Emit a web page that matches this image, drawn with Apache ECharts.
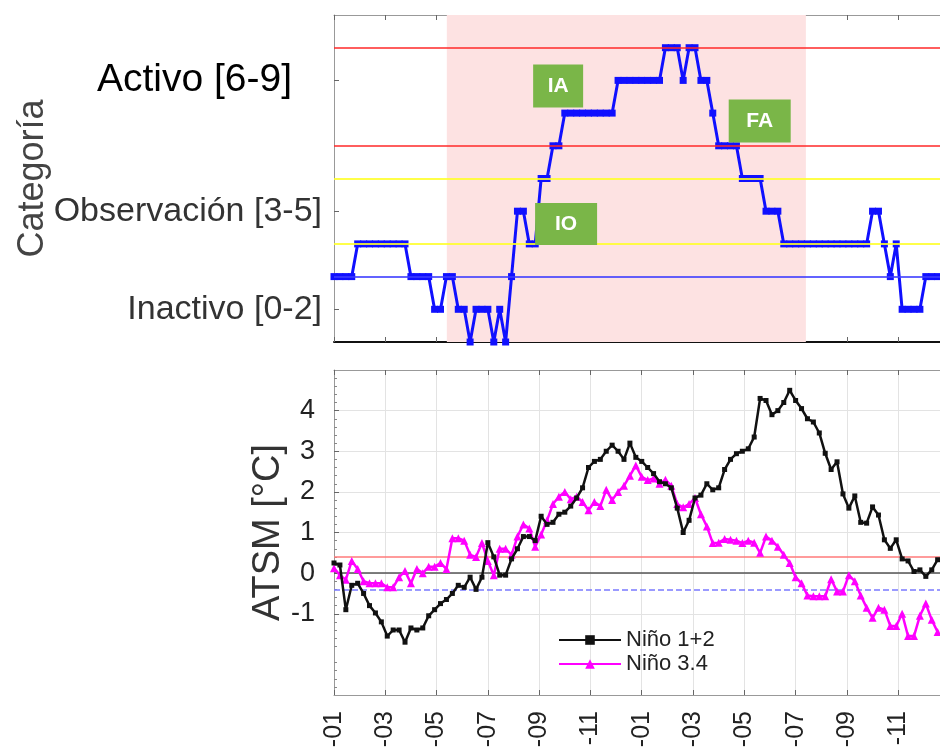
<!DOCTYPE html>
<html><head><meta charset="utf-8">
<script src="https://cdn.jsdelivr.net/npm/echarts@6/dist/echarts.min.js"></script>
<style>html,body{margin:0;padding:0;background:#fff}#c{width:940px;height:753px}</style>
</head><body><div id="c"></div>
<script>
// ---- data (weekly samples, starting at the first week of January) ----
const monthTickLabels = ['-01','-03','-05','-07','-09','-11','-01','-03','-05','-07','-09','-11'];
const categoryTickValues = [1, 4, 8];
const categoryTickLabels = ['Inactivo [0-2]', 'Observación [3-5]', 'Activo [6-9]'];
const atsmTickValues = [-1, 0, 1, 2, 3, 4];
const categoryLevels = [2,2,2,2, 3,3,3,3,3,3,3,3,3, 2,2,2,2, 1,1, 2,2, 1,1, 0, 1,1,1, 0, 1, 0, 2, 4,4, 3,3, 5,5, 6,6,
  7,7,7,7,7,7,7,7,7, 8,8,8,8,8,8,8,8, 9,9,9, 8, 9,9, 8,8, 7, 6,6,6,6, 5,5,5,5, 4,4,4,
  3,3,3,3,3,3,3,3,3,3,3,3,3,3,3, 4,4, 3, 2, 3, 1,1,1,1, 2,2,2];
const nino12 = [0.25,0.2,-0.9,-0.3,-0.25,-0.5,-0.8,-0.98,-1.2,-1.55,-1.4,-1.4,-1.7,-1.35,-1.4,-1.35,-1.05,-0.9,-0.75,-0.65,
  -0.5,-0.3,-0.35,-0.1,-0.4,-0.1,0.75,0.4,-0.05,-0.05,0.35,0.6,0.9,0.9,0.8,1.4,1.2,1.25,1.45,1.5,
  1.65,1.85,2.1,2.6,2.75,2.8,3.0,3.15,3.0,2.8,3.2,2.85,2.75,2.6,2.45,2.25,2.2,2.1,1.6,1.0,
  1.3,1.85,1.92,2.2,2.05,2.1,2.55,2.8,2.94,3.0,3.06,3.35,4.3,4.25,3.9,4.0,4.2,4.5,4.25,4.05,
  3.8,3.72,3.45,2.95,2.55,2.74,1.95,1.6,1.9,1.25,1.23,1.63,1.43,0.82,0.61,0.82,0.35,0.3,0.04,0.08,
  -0.08,0.08,0.33];
const nino34 = [0.12,-0.05,-0.16,0.3,0.1,-0.2,-0.25,-0.25,-0.25,-0.35,-0.35,-0.1,0.05,-0.25,0.1,0.0,0.16,0.16,0.25,0.1,
  0.86,0.86,0.8,0.45,0.4,0.74,0.3,-0.05,0.6,0.6,0.45,0.9,1.2,1.1,0.65,0.95,1.3,1.7,1.88,2.0,
  1.82,1.88,1.75,1.55,1.75,1.65,2.05,1.8,2.0,2.15,2.4,2.65,2.37,2.29,2.33,2.2,2.3,2.15,1.7,1.62,
  1.7,1.85,1.45,1.15,0.74,0.75,0.84,0.82,0.8,0.74,0.8,0.75,0.5,0.9,0.8,0.65,0.45,0.25,-0.1,-0.25,
  -0.55,-0.57,-0.57,-0.57,-0.15,-0.45,-0.45,-0.05,-0.2,-0.55,-0.85,-1.1,-0.85,-0.9,-1.3,-1.3,-1.0,-1.55,-1.55,-1.05,
  -0.75,-1.15,-1.45];
const shadedPeriod = [4.4, 18.4];           // months from start
const categoryThresholds = [9, 6, 5, 3, 2];
const atsmThresholds = [0, 0.4, -0.4];

// ---- config ----
const MONTHS_PER_WEEK = 12 / 52;
const X_MAX = 23.63;
const FONT = 'Liberation Sans, Arial, sans-serif';
const toXY = arr => arr.map((v, i) => [i * MONTHS_PER_WEEK, v]);
const thresholdStyles = {
  9: { color: 'rgba(255,40,40,0.75)', width: 2 },
  6: { color: 'rgba(255,40,40,0.75)', width: 2 },
  5: { color: 'rgba(255,255,40,0.85)', width: 2 },
  3: { color: 'rgba(255,255,40,0.85)', width: 2 },
  2: { color: 'rgba(60,60,255,0.8)', width: 2 }
};
const atsmStyles = {
  '0': { color: '#555', width: 1.5, type: 'solid' },
  '0.4': { color: '#ff7a7a', width: 1.5, type: 'solid' },
  '-0.4': { color: '#7a7aff', width: 1.5, type: 'dashed' }
};
const annotations = [
  { name: 'IA', x: 8.74, y: 7.83, w: 50, h: 43 },
  { name: 'IO', x: 9.05, y: 3.61, w: 62, h: 42 },
  { name: 'FA', x: 16.6, y: 6.76, w: 62, h: 43 }
];

const chart = echarts.init(document.getElementById('c'), null, { renderer: 'canvas' });
const monthLabel = v => {
  const k = Math.round(v);
  if (Math.abs(v - k) > 1e-6 || k % 2) return '';
  return monthTickLabels[k / 2] || '';
};
const xBase = (gridIndex, position) => ({
  type: 'value', gridIndex, position, min: 0, max: X_MAX, interval: 2,
  axisLine: { show: true, onZero: false, lineStyle: { color: '#999', width: 1 } },
  axisTick: { show: true, inside: true, length: 5, lineStyle: { color: '#666' } },
  axisLabel: { show: false },
  splitLine: { show: false }
});

const x0 = xBase(0, 'bottom'); x0.axisLine.lineStyle = { color: '#111', width: 2 };
const x1 = xBase(0, 'top');
const x2 = xBase(1, 'bottom');
x2.axisLabel = { show: true, rotate: 90, margin: 16, fontSize: 25, color: '#222', fontFamily: FONT,
  formatter: monthLabel, showMaxLabel: false };
x2.splitLine = { show: true, lineStyle: { color: '#e3e3e3', width: 1 } };
const x3 = xBase(1, 'top');

const option = {
  animation: false,
  backgroundColor: '#fff',
  textStyle: { fontFamily: FONT },
  grid: [
    { left: 334, top: 15, right: 0, height: 327 },
    { left: 334, top: 370, right: 0, height: 325 }
  ],
  xAxis: [x0, x1, x2, x3],
  yAxis: [
    {
      type: 'value', gridIndex: 0, min: 0, max: 10, interval: 1,
      name: 'Categoría', nameLocation: 'middle', nameGap: 283, nameMoveOverlap: false,
      nameTextStyle: { fontSize: 36, color: '#444', fontFamily: FONT },
      axisLine: { show: true, lineStyle: { color: '#999' } },
      axisTick: { show: true, inside: true, length: 5, customValues: categoryTickValues, lineStyle: { color: '#666' } },
      axisLabel: {
        show: true, margin: 12, customValues: categoryTickValues,
        formatter: v => {
          const k = categoryTickValues.indexOf(v);
          if (k < 0) return '';
          return (k === 2 ? '{act|' : '{obs|') + categoryTickLabels[k] + '}';
        },
        rich: {
          act: { fontSize: 39, color: '#000', fontFamily: FONT, padding: [0, 30, 0, 0] },
          obs: { fontSize: 34, color: '#333', fontFamily: FONT }
        }
      },
      splitLine: { show: false }
    },
    {
      type: 'value', gridIndex: 1, min: -3, max: 5, interval: 1,
      name: 'ATSM [°C]', nameLocation: 'middle', nameGap: 46, nameMoveOverlap: false,
      nameTextStyle: { fontSize: 38, color: '#333', fontFamily: FONT },
      axisLine: { show: true, lineStyle: { color: '#999' } },
      axisTick: { show: true, inside: true, length: 5, customValues: atsmTickValues, lineStyle: { color: '#666' } },
      minorTick: { show: true, splitNumber: 5, length: 3, lineStyle: { color: '#888' } },
      axisLabel: { show: true, margin: 19, fontSize: 27, color: '#222', fontFamily: FONT, customValues: atsmTickValues },
      splitLine: { show: true, lineStyle: { color: '#e3e3e3', width: 1 } }
    }
  ],
  legend: {
    data: ['Niño 1+2', 'Niño 3.4'],
    orient: 'vertical', left: 553, top: 624, itemWidth: 62, itemHeight: 12, itemGap: 2,
    textStyle: { fontSize: 22, color: '#222', fontFamily: FONT },
    backgroundColor: 'transparent'
  },
  series: [
    {
      name: 'Categoría', type: 'line', xAxisIndex: 0, yAxisIndex: 0,
      data: toXY(categoryLevels),
      symbol: 'rect', symbolSize: 7, showSymbol: true,
      lineStyle: { color: '#1010ff', width: 3 }, itemStyle: { color: '#1010ff' },
      z: 3,
      markArea: {
        silent: true,
        itemStyle: { color: '#fde2e2' },
        data: [[{ xAxis: shadedPeriod[0] }, { xAxis: shadedPeriod[1] }]]
      },
      markLine: {
        silent: true, symbol: 'none', label: { show: false },
        data: categoryThresholds.map(t => ({ yAxis: t, lineStyle: Object.assign({ type: 'solid' }, thresholdStyles[t]) }))
      },
      markPoint: {
        silent: true, symbol: 'rect',
        itemStyle: { color: '#7ab648' },
        label: { show: true, position: 'inside', color: '#fff', fontSize: 21, fontWeight: 'bold', fontFamily: FONT, formatter: '{b}' },
        data: annotations.map(a => ({ name: a.name, coord: [a.x, a.y], symbolSize: [a.w, a.h] }))
      }
    },
    {
      name: 'Niño 1+2', type: 'line', xAxisIndex: 2, yAxisIndex: 1,
      data: toXY(nino12),
      symbol: 'rect', symbolSize: 5, showSymbol: true,
      lineStyle: { color: '#111', width: 2.5 }, itemStyle: { color: '#111' },
      z: 4,
      markLine: {
        silent: true, symbol: 'none', label: { show: false }, z: 2,
        data: atsmThresholds.map(t => ({ yAxis: t, lineStyle: atsmStyles[String(t)] }))
      }
    },
    {
      name: 'Niño 3.4', type: 'line', xAxisIndex: 2, yAxisIndex: 1,
      data: toXY(nino34),
      symbol: 'triangle', symbolSize: 8, showSymbol: true,
      lineStyle: { color: '#ff00ff', width: 2.5 }, itemStyle: { color: '#ff00ff' },
      z: 3
    }
  ]
};
chart.setOption(option);
</script>
</body></html>
